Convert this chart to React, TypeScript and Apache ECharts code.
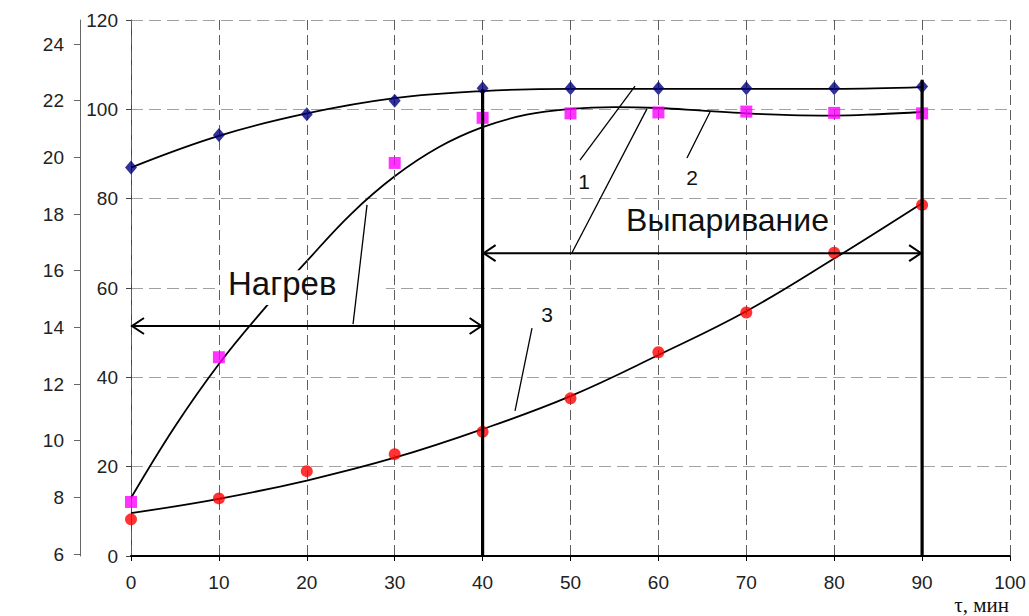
import React, { useEffect, useRef } from "react";
import * as echarts from "echarts";

// ---- data ----
const tau = [0, 10, 20, 30, 40, 50, 60, 70, 80, 90];
// curve 1 (blue diamonds), outer scale 6..24
const s1Points = [19.64, 20.79, 21.52, 22.0, 22.44, 22.44, 22.44, 22.44, 22.44, 22.5];
const s1Trend = [19.64, 20.76, 21.55, 22.09, 22.34, 22.42, 22.42, 22.42, 22.42, 22.48];
// curve 2 (magenta squares), inner scale 0..120
const s2Points = [12.1, 44.5, null, 88.0, 98.1, 99.1, 99.3, 99.5, 99.2, 99.1];
const s2TrendTau = [0, 5, 10, 15, 20, 25, 30, 35, 40, 45, 50, 55, 60, 65, 70, 75, 80, 85, 90];
const s2Trend = [13.0, 29.0, 43.0, 55.0, 66.0, 76.5, 85.0, 91.5, 96.0, 98.8, 100.1, 100.5, 100.3, 99.7, 99.1, 98.7, 98.6, 98.9, 99.4];
// curve 3 (red circles), inner scale 0..120
const s3Points = [8.2, 12.9, 19.0, 22.8, 27.8, 35.3, 45.6, 54.5, 67.9, 78.6];
const s3Trend = [9.6, 12.8, 16.9, 22.0, 28.4, 35.8, 45.0, 54.8, 66.6, 79.0];
// phase boundaries
const boundaryTau = [40, 90];
const boundaryTop = [104.5, 106.6];
// phase arrows
const phaseNames = ["Нагрев", "Выпаривание"];
const phaseSpans = [[0, 40], [40, 90]];
const phaseLevels = [51.5, 67.8];
// axis ticks
const xTicks = { min: 0, max: 100, step: 10 };
const innerTicks = { min: 0, max: 120, step: 20 };
const outerTickValues = [6, 8, 10, 12, 14, 16, 18, 20, 22, 24];

const FONT = "'Liberation Sans', Arial, sans-serif";

export default function App() {
  const ref = useRef<HTMLDivElement>(null);
  useEffect(() => {
    if (!ref.current) return;
    const chart = echarts.init(ref.current, undefined, { renderer: "svg" });
    const zip = (xs: number[], ys: (number | null)[]) =>
      xs.map((x, i) => [x, ys[i]]).filter((d) => d[1] !== null);

    const lineBase = {
      type: "line",
      symbol: "none",
      smooth: 0.4,
      lineStyle: { color: "#000", width: 1.8 },
      z: 2,
      silent: true,
    };

    const option: any = {
      animation: false,
      backgroundColor: "#fff",
      grid: { left: 131, right: 19, top: 20, bottom: 60 },
      xAxis: {
        type: "value",
        min: xTicks.min,
        max: xTicks.max,
        interval: xTicks.step,
        z: 3,
        axisLine: { show: true, onZero: false, lineStyle: { color: "#000", width: 2 } },
        axisTick: { show: true, length: 5, lineStyle: { color: "#000", width: 1 } },
        axisLabel: { fontSize: 19, color: "#222", margin: 17, fontFamily: FONT },
        splitLine: { show: true, lineStyle: { color: "#5e5e5e", type: [10, 5], width: 1 } },
      },
      yAxis: [
        {
          type: "value",
          min: innerTicks.min,
          max: innerTicks.max,
          interval: innerTicks.step,
          position: "left",
          z: 0,
          axisLine: { show: true, lineStyle: { color: "#444", width: 1 } },
          axisTick: { show: true, length: 5, lineStyle: { color: "#444" } },
          axisLabel: { fontSize: 19, color: "#222", margin: 13, fontFamily: FONT },
          splitLine: { show: true, lineStyle: { color: "#a0a0a0", type: [12, 6], width: 1 } },
        },
        {
          type: "value",
          min: 5.93,
          max: 24.85,
          position: "left",
          offset: 51,
          alignTicks: false,
          axisLine: { show: true, lineStyle: { color: "#666", width: 1 } },
          axisTick: { show: true, length: 6, customValues: outerTickValues, lineStyle: { color: "#666" } },
          axisLabel: { fontSize: 19, color: "#222", margin: 16, fontFamily: FONT, customValues: outerTickValues },
          splitLine: { show: false },
        },
      ],
      series: [
        { ...lineBase, name: "trend1", yAxisIndex: 1, data: zip(tau, s1Trend) },
        { ...lineBase, name: "trend2", yAxisIndex: 0, data: zip(s2TrendTau, s2Trend) },
        { ...lineBase, name: "trend3", yAxisIndex: 0, data: zip(tau, s3Trend) },
        {
          type: "scatter", name: "1", yAxisIndex: 1, data: zip(tau, s1Points),
          symbol: "diamond", symbolSize: [12, 14], itemStyle: { color: "#00007a" }, z: 4,
        },
        {
          type: "scatter", name: "2", yAxisIndex: 0, data: zip(tau, s2Points),
          symbol: "rect", symbolSize: 12, itemStyle: { color: "#ff00ff" }, z: 4,
        },
        {
          type: "scatter", name: "3", yAxisIndex: 0, data: zip(tau, s3Points),
          symbol: "circle", symbolSize: 12, itemStyle: { color: "#ff0000" }, z: 4,
        },
        ...boundaryTau.map((t, i) => ({
          type: "line", name: "boundary" + i, yAxisIndex: 0, symbol: "none",
          data: [[t, boundaryTop[i]], [t, 0]],
          lineStyle: { color: "#000", width: 3.2 }, z: 5, silent: true,
        })),
      ],
    };
    chart.setOption(option);

    const P = (t: number, v: number) =>
      chart.convertToPixel({ xAxisIndex: 0, yAxisIndex: 0 }, [t, v]) as number[];

    const els: any[] = [];
    const seg = (a: number[], b: number[], w = 1.3) => {
      const p1 = P(a[0], a[1]);
      const p2 = P(b[0], b[1]);
      els.push({
        type: "line", z: 6, silent: true,
        shape: { x1: p1[0], y1: p1[1], x2: p2[0], y2: p2[1] },
        style: { stroke: "#000", lineWidth: w },
      });
    };
    const label = (text: string, t: number, v: number, size: number) => {
      const p = P(t, v);
      els.push({
        type: "text", z: 6, silent: true, x: p[0], y: p[1],
        style: {
          text, fontSize: size, fontFamily: FONT, fill: "#111",
          align: "center", verticalAlign: "middle",
        },
      });
    };

    // white box behind "Нагрев"
    const r1 = P(10.13, 64.0);
    const r2 = P(29.0, 56.2);
    els.push({
      type: "rect", z: 2.5, silent: true,
      shape: { x: r1[0], y: r1[1], width: r2[0] - r1[0], height: r2[1] - r1[1] },
      style: { fill: "#fff" },
    });

    // double arrows for phases
    phaseSpans.forEach((span, i) => {
      const a = P(span[0], phaseLevels[i]);
      const b = P(span[1], phaseLevels[i]);
      els.push({
        type: "line", z: 6, silent: true,
        shape: { x1: a[0], y1: a[1], x2: b[0], y2: b[1] },
        style: { stroke: "#000", lineWidth: 2 },
      });
      els.push({
        type: "polyline", z: 6, silent: true,
        shape: { points: [[a[0] + 13, a[1] - 8], [a[0] + 1, a[1]], [a[0] + 13, a[1] + 8]] },
        style: { stroke: "#000", lineWidth: 2, fill: "none" },
      });
      els.push({
        type: "polyline", z: 6, silent: true,
        shape: { points: [[b[0] - 13, b[1] - 8], [b[0] - 1, b[1]], [b[0] - 13, b[1] + 8]] },
        style: { stroke: "#000", lineWidth: 2, fill: "none" },
      });
    });

    // leader lines
    seg([25.26, 51.9], [26.85, 78.6]);
    seg([50.17, 67.9], [58.7, 100.1]);
    seg([51.08, 88.65], [57.34, 105.2]);
    seg([63.25, 89.1], [65.87, 99.4]);
    seg([43.69, 32.5], [45.62, 51.0]);

    // texts
    label(phaseNames[0], 17.2, 60.9, 33);
    label(phaseNames[1], 67.86, 75.2, 32);
    label("1", 51.54, 83.95, 21);
    label("2", 63.82, 84.85, 21);
    label("3", 47.33, 54.17, 21);

    const end = P(100, 0);
    els.push({
      type: "text", z: 6, silent: true, x: end[0] - 1, y: 605,
      style: {
        text: "τ, мин", fontSize: 21, fontFamily: "'Liberation Serif', 'Times New Roman', serif",
        fill: "#111", align: "right", verticalAlign: "middle",
      },
    });

    chart.setOption({ graphic: { elements: els } });

    return () => chart.dispose();
  }, []);

  return (
    <div
      ref={ref}
      style={{ position: "fixed", left: 0, top: 0, width: 1029, height: 616, background: "#fff" }}
    />
  );
}
